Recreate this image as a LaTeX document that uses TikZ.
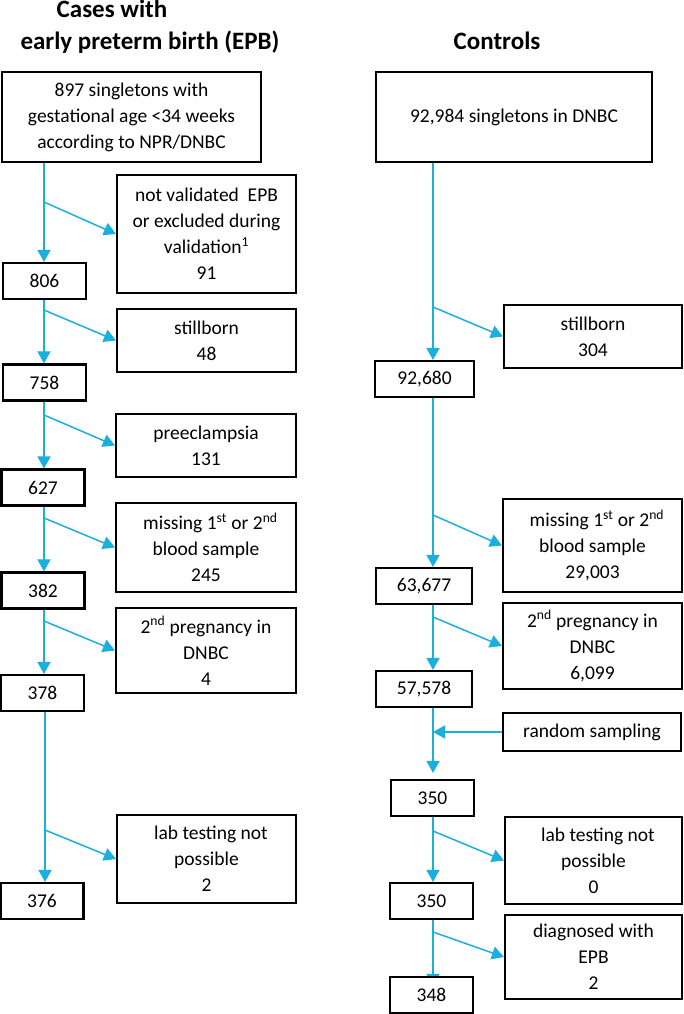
\documentclass[tikz,border=0pt]{standalone}
\usepackage{fontspec}
\setmainfont{Carlito}
\usetikzlibrary{arrows.meta}
\definecolor{flowblue}{RGB}{27,175,222}
\pgfdeclarelayer{bg}
\pgfsetlayers{bg,main}
\begin{document}
\begin{tikzpicture}[x=1pt,y=-1pt,
  box/.style={draw=black, line width=2.1pt, fill=white, inner sep=0pt, align=center,
    font=\fontsize{19.5}{26}\selectfont},
  numbox/.style={box, minimum width=83pt, minimum height=36pt},
  conn/.style={draw=flowblue, line width=1.5pt},
  arr/.style={conn, -{Triangle[width=13pt,length=12pt]}},
  ttl/.style={font=\fontsize{25}{34}\bfseries\selectfont, anchor=base, inner sep=0pt}]
\useasboundingbox (0,0) rectangle (683,1014);

% titles
\node[ttl] (t1) at (112,17.5) {Cases with};
\node[ttl] (t2) at (150,50) {early preterm birth (EPB)};
\node[ttl] (t3) at (497,50) {Controls};

% guide coordinates for main lines
\coordinate (lx) at (44,0);
\coordinate (rx) at (433,0);

% left column
\node[box, minimum width=259pt, minimum height=90pt] (box1) at (131.5,117)
  {897 singletons with\\gestational age <34 weeks\\according to NPR/DNBC};
\node[box, minimum width=179pt, minimum height=118pt] (nv) at (206.5,234)
  {not validated\ \ EPB\\or excluded during\\validation\textsuperscript{1}\\91};
\node[numbox] (n806) at (44.5,281) {806};
\node[box, minimum width=179pt, minimum height=63pt] (sb1) at (206.5,340.5)
  {stillborn\\48};
\node[numbox] (n758) at (44.5,382.5) {758};
\node[box, minimum width=180pt, minimum height=63pt] (pe) at (206,445.5)
  {preeclampsia\\131};
\node[numbox] (n627) at (43,487.5) {627};
\node[box, minimum width=180pt, minimum height=89pt] (ms1) at (206,547.5)
  {\ \ missing 1\textsuperscript{st} or 2\textsuperscript{nd}\\blood sample\\245};
\node[numbox] (n382) at (43,590.5) {382};
\node[box, minimum width=180pt, minimum height=85pt] (pg1) at (206,650.5)
  {2\textsuperscript{nd} pregnancy in\\DNBC\\4};
\node[numbox] (n378) at (42.5,693) {378};
\node[box, minimum width=179pt, minimum height=88pt] (lt1) at (206.5,859)
  {\ \ lab testing not\\possible\\2};
\node[numbox] (n376) at (42,901) {376};

% right column
\node[box, minimum width=276pt, minimum height=90pt] (box2) at (514,117)
  {92,984 singletons in DNBC};
\node[box, minimum width=178pt, minimum height=63pt] (sb2) at (593,336.5)
  {stillborn\\304};
\node[numbox, minimum width=99pt] (n92680) at (424.5,379) {92,680};
\node[box, minimum width=179pt, minimum height=93pt] (ms2) at (592.5,545.5)
  {\ \ missing 1\textsuperscript{st} or 2\textsuperscript{nd}\\blood sample\\29,003};
\node[numbox, minimum width=96pt] (n63677) at (424,586) {63,677};
\node[box, minimum width=179pt, minimum height=86pt] (pg2) at (592.5,646)
  {2\textsuperscript{nd} pregnancy in\\DNBC\\6,099};
\node[numbox, minimum width=96pt] (n57578) at (424,689) {57,578};
\node[box, minimum width=178pt, minimum height=38pt] (rs) at (592,732)
  {random sampling};
\node[numbox] (n350a) at (432.5,798) {350};
\node[box, minimum width=177pt, minimum height=87pt] (lt2) at (593.5,860.5)
  {\ \ lab testing not\\possible\\0};
\node[numbox] (n350b) at (431.5,901) {350};
\node[box, minimum width=177pt, minimum height=84pt] (dg) at (593.5,957)
  {diagnosed with\\EPB\\2};
\node[numbox] (n348) at (431.5,995) {348};

% branch start points
\coordinate (b1) at (44,202);
\coordinate (b2) at (44,310);
\coordinate (b3) at (44,415);
\coordinate (b4) at (44,518);
\coordinate (b5) at (44,621);
\coordinate (b6) at (45,830);
\coordinate (c1) at (433,307);
\coordinate (c2) at (433,515);
\coordinate (c3) at (433,617);
\coordinate (c4) at (433,732);
\coordinate (c5) at (433,831);
\coordinate (c6) at (433,932);

% main flow, left
\draw[arr] (lx |- box1.south) -- (lx |- n806.north);
\draw[arr] (lx |- n806.south) -- (lx |- n758.north);
\draw[arr] (lx |- n758.south) -- (lx |- n627.north);
\draw[arr] (lx |- n627.south) -- (lx |- n382.north);
\draw[arr] (lx |- n382.south) -- (lx |- n378.north);
\draw[arr] (b6 |- n378.south) -- (b6 |- n376.north);

% main flow, right
\draw[arr] (rx |- box2.south) -- (rx |- n92680.north);
\draw[arr] (rx |- n92680.south) -- (rx |- n63677.north);
\draw[arr] (rx |- n63677.south) -- (rx |- n57578.north);
\draw[arr, shorten >=6pt] (rx |- n57578.south) -- (rx |- n350a.north);
\draw[arr] (rx |- n350a.south) -- (rx |- n350b.north);
\begin{pgfonlayer}{bg}
\draw[arr] (rx |- n350b.south) -- ([yshift=-10pt]rx |- n348.north);
\end{pgfonlayer}

% exclusion branches
\draw[arr] (b1) -- (nv.west);
\draw[arr] (b2) -- (sb1.west);
\draw[arr] (b3) -- (pe.west);
\draw[arr] (b4) -- (ms1.west);
\draw[arr] (b5) -- (pg1.west);
\draw[arr] (b6) -- (lt1.west);
\draw[arr] (c1) -- (sb2.west);
\draw[arr] (c2) -- (ms2.west);
\draw[arr] (c3) -- (pg2.west);
\draw[arr] (rs.west) -- (c4);
\draw[arr] (c5) -- (lt2.west);
\draw[arr] (c6) -- (dg.west);
\end{tikzpicture}
\end{document}
